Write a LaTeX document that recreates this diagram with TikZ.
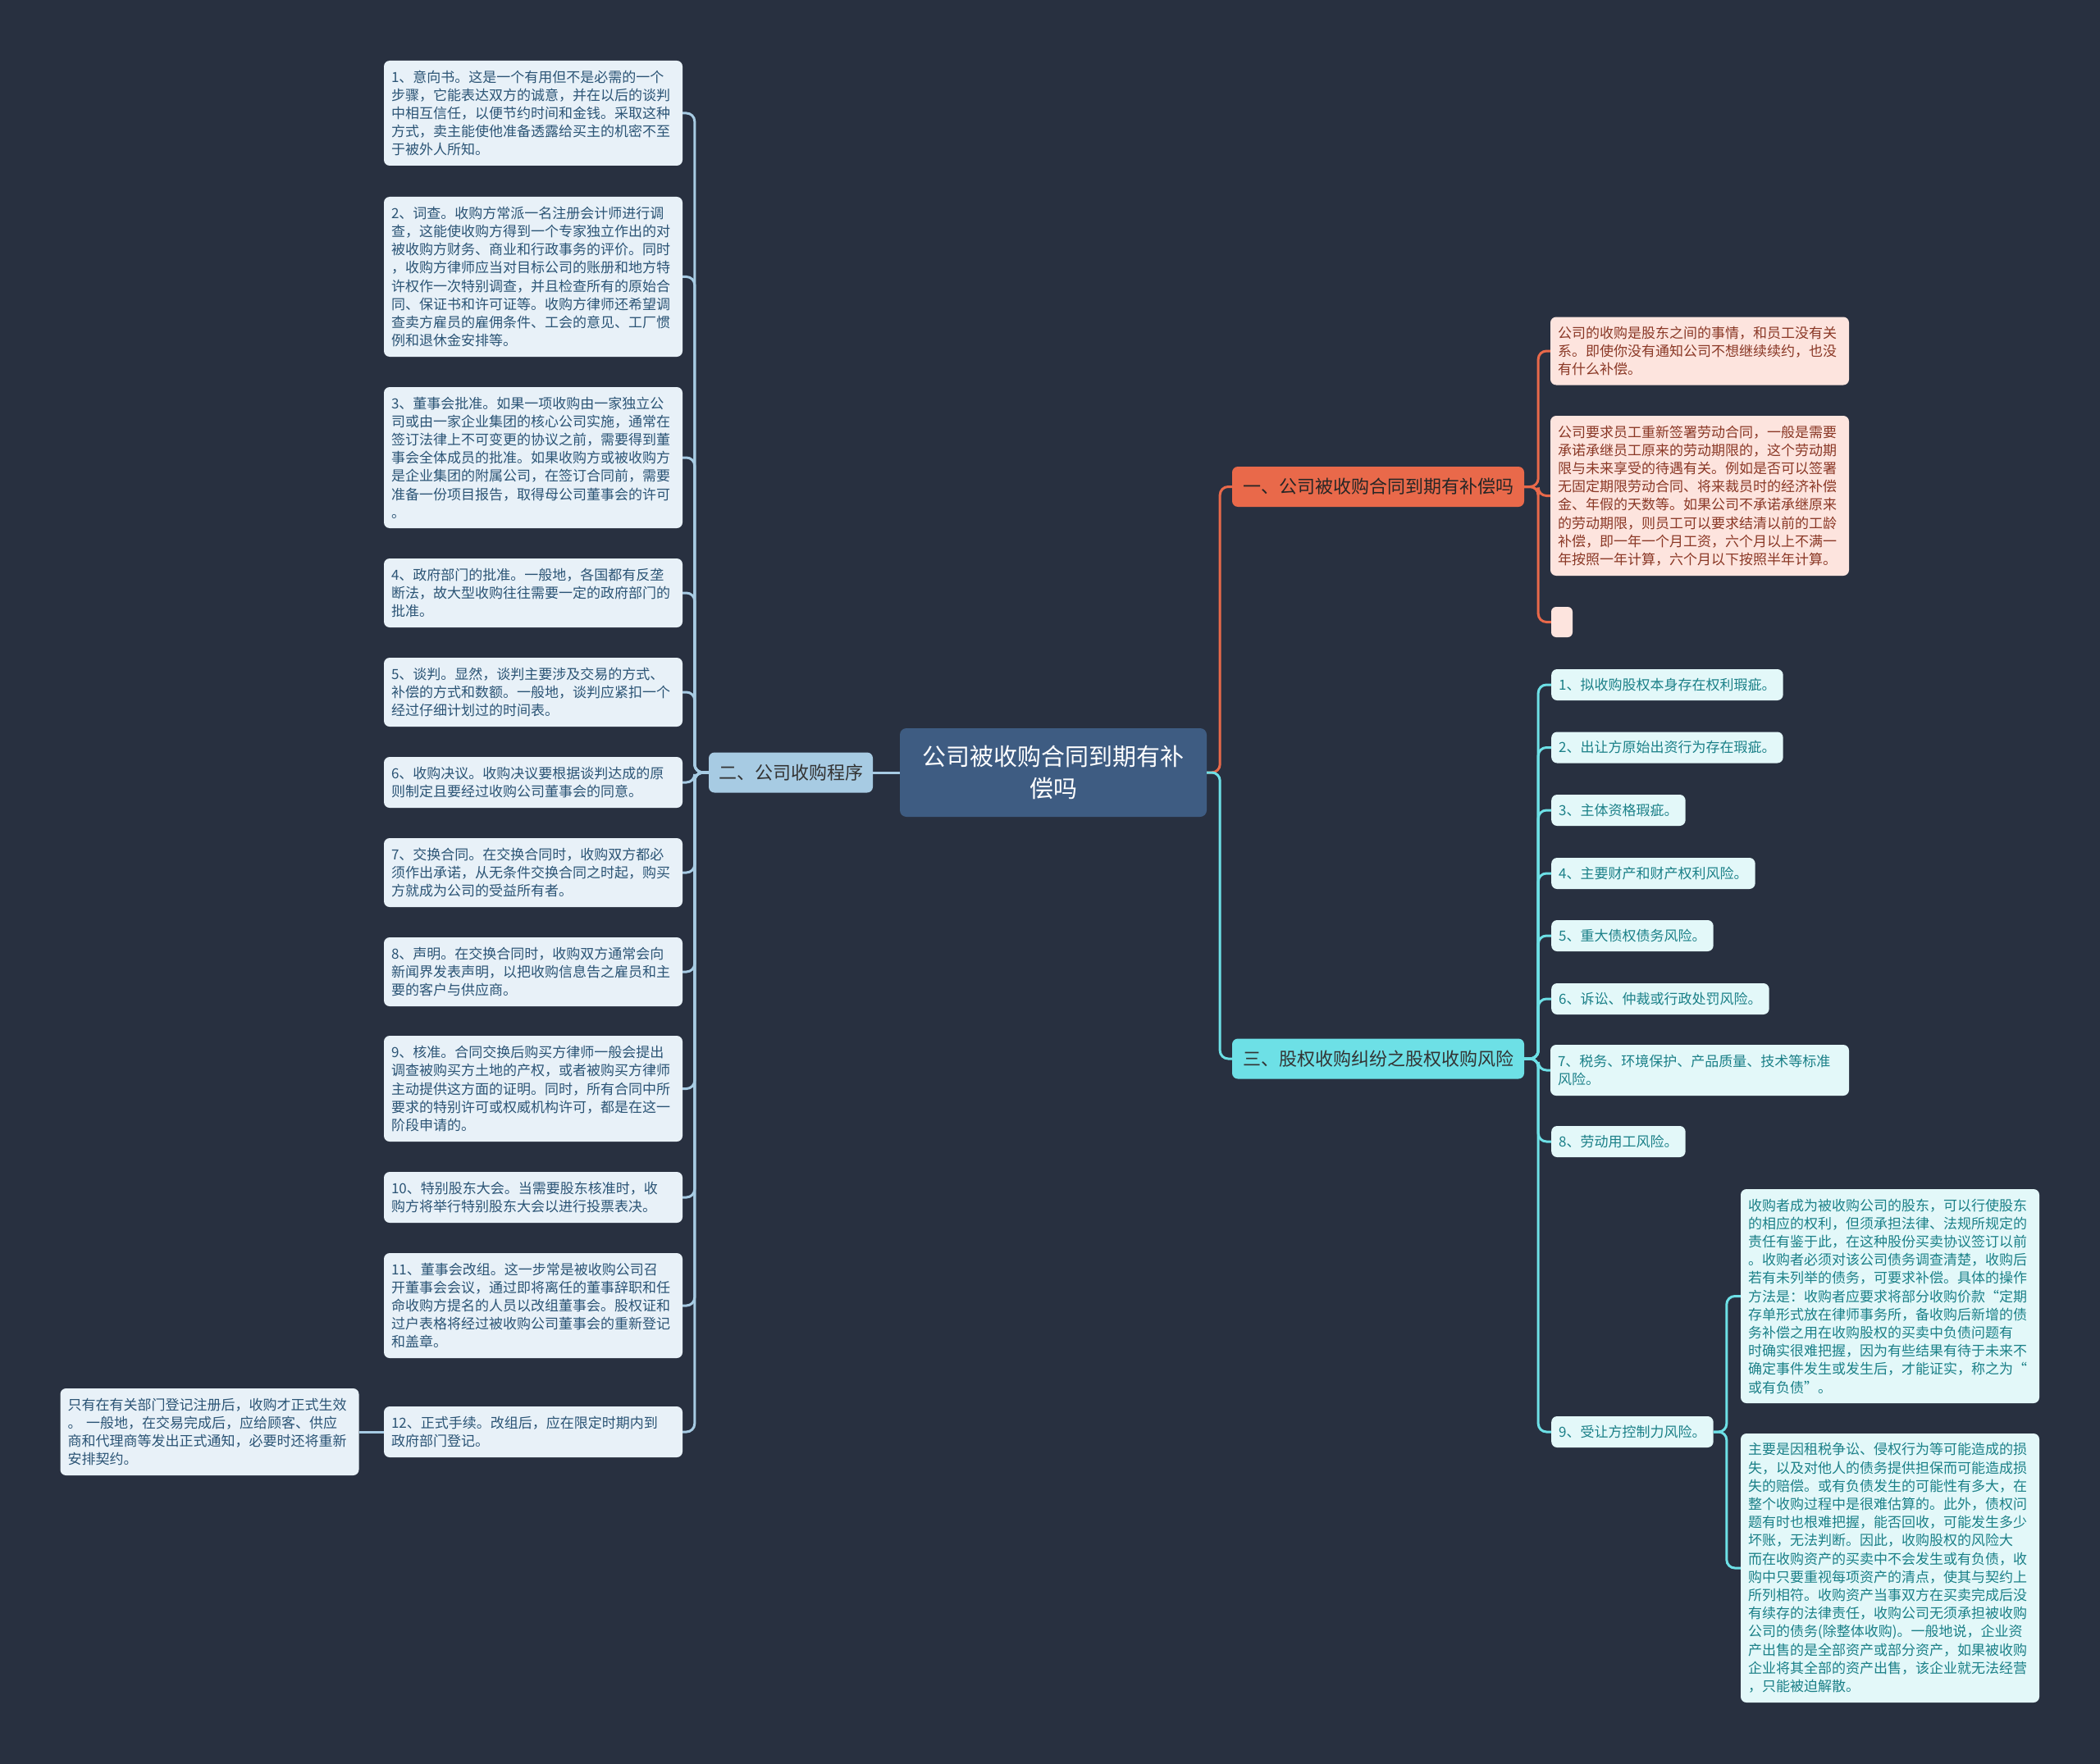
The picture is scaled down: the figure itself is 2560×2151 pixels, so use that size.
\documentclass[tikz,border=0pt]{standalone}
\usepackage{fontspec}
\setmainfont{Noto Sans CJK SC}
\usepackage{xcolor}
\definecolor{bgnavy}{HTML}{283040}
\definecolor{rootfill}{HTML}{3E5C82}
\definecolor{bluemid}{HTML}{A7CBE3}
\definecolor{bluetext}{HTML}{2B5475}
\definecolor{blueleaf}{HTML}{E8F1F8}
\definecolor{redmid}{HTML}{E9694A}
\definecolor{redtext}{HTML}{8A3826}
\definecolor{redleaf}{HTML}{FDE4DE}
\definecolor{cyanmid}{HTML}{6DE0E6}
\definecolor{cyantext}{HTML}{1B8088}
\definecolor{cyanleaf}{HTML}{E3F8F9}

\begin{document}
\begin{tikzpicture}[
  x=1pt, y=-1pt,
  topic/.style={rectangle, rounded corners=8pt, fill=rootfill, text=white, align=center, font=\fontsize{29}{39}\selectfont, minimum width=374pt, minimum height=108pt},
  branch/.style={rectangle, rounded corners=7pt, align=center, font=\fontsize{22}{26}\selectfont, minimum height=49pt, inner xsep=10pt},
  leaf/.style={rectangle, rounded corners=7pt, align=left, font=\fontsize{17}{22.2}\selectfont, inner xsep=9pt, inner ysep=0pt},
  wide/.style={text width=346pt},
  blueleafbox/.style={leaf, wide, fill=blueleaf, text=bluetext},
  redleafbox/.style={leaf, wide, fill=redleaf, text=redtext},
  cyanleafbox/.style={leaf, fill=cyanleaf, text=cyantext, minimum height=38pt},
  link/.style={line width=3pt, rounded corners=10pt},
  bluelink/.style={link, draw=bluemid},
  redlink/.style={link, draw=redmid},
  cyanlink/.style={link, draw=cyanmid}
]
  \fill[bgnavy] (0,0) rectangle (2560,2151);
  \useasboundingbox (0,0) rectangle (2560,2151);

  \node[topic] (root) at (1284,942) {公司被收购合同到期有补\\偿吗};

  \node[branch, fill=bluemid, text=black!80, minimum width=200pt] (procedure) at (964,942) {二、公司收购程序};
  \node[branch, fill=redmid, text=black!85, minimum width=356pt] (compensation) at (1680,593.5) {一、公司被收购合同到期有补偿吗};
  \node[branch, fill=cyanmid, text=black!80, minimum width=356pt] (risk) at (1680,1291) {三、股权收购纠纷之股权收购风险};

  \node[blueleafbox, minimum height=128pt] (step1) at (650,138) {1、意向书。这是一个有用但不是必需的一个\\步骤，它能表达双方的诚意，并在以后的谈判\\中相互信任，以便节约时间和金钱。采取这种\\方式，卖主能使他准备透露给买主的机密不至\\于被外人所知。};
  \node[blueleafbox, minimum height=195pt] (step2) at (650,337.5) {2、词查。收购方常派一名注册会计师进行调\\查，这能使收购方得到一个专家独立作出的对\\被收购方财务、商业和行政事务的评价。同时\\，收购方律师应当对目标公司的账册和地方特\\许权作一次特别调查，并且检查所有的原始合\\同、保证书和许可证等。收购方律师还希望调\\查卖方雇员的雇佣条件、工会的意见、工厂惯\\例和退休金安排等。};
  \node[blueleafbox, minimum height=172pt] (step3) at (650,558) {3、董事会批准。如果一项收购由一家独立公\\司或由一家企业集团的核心公司实施，通常在\\签订法律上不可变更的协议之前，需要得到董\\事会全体成员的批准。如果收购方或被收购方\\是企业集团的附属公司，在签订合同前，需要\\准备一份项目报告，取得母公司董事会的许可\\。};
  \node[blueleafbox, minimum height=84pt] (step4) at (650,723) {4、政府部门的批准。一般地，各国都有反垄\\断法，故大型收购往往需要一定的政府部门的\\批准。};
  \node[blueleafbox, minimum height=84pt] (step5) at (650,844) {5、谈判。显然，谈判主要涉及交易的方式、\\补偿的方式和数额。一般地，谈判应紧扣一个\\经过仔细计划过的时间表。};
  \node[blueleafbox, minimum height=62pt] (step6) at (650,954) {6、收购决议。收购决议要根据谈判达成的原\\则制定且要经过收购公司董事会的同意。};
  \node[blueleafbox, minimum height=84pt] (step7) at (650,1064) {7、交换合同。在交换合同时，收购双方都必\\须作出承诺，从无条件交换合同之时起，购买\\方就成为公司的受益所有者。};
  \node[blueleafbox, minimum height=84pt] (step8) at (650,1185) {8、声明。在交换合同时，收购双方通常会向\\新闻界发表声明，以把收购信息告之雇员和主\\要的客户与供应商。};
  \node[blueleafbox, minimum height=129pt] (step9) at (650,1327.5) {9、核准。合同交换后购买方律师一般会提出\\调查被购买方土地的产权，或者被购买方律师\\主动提供这方面的证明。同时，所有合同中所\\要求的特别许可或权威机构许可，都是在这一\\阶段申请的。};
  \node[blueleafbox, minimum height=62pt] (step10) at (650,1460) {10、特别股东大会。当需要股东核准时，收\\购方将举行特别股东大会以进行投票表决。};
  \node[blueleafbox, minimum height=128pt] (step11) at (650,1592) {11、董事会改组。这一步常是被收购公司召\\开董事会会议，通过即将离任的董事辞职和任\\命收购方提名的人员以改组董事会。股权证和\\过户表格将经过被收购公司董事会的重新登记\\和盖章。};
  \node[blueleafbox, minimum height=62pt] (step12) at (650,1746) {12、正式手续。改组后，应在限定时期内到\\政府部门登记。};
  \node[blueleafbox, minimum height=106pt] (register) at (255.5,1746) {只有在有关部门登记注册后，收购才正式生效\\。 一般地，在交易完成后，应给顾客、供应\\商和代理商等发出正式通知，必要时还将重新\\安排契约。};

  \node[redleafbox, minimum height=83pt] (staff1) at (2072,428) {公司的收购是股东之间的事情，和员工没有关\\系。即使你没有通知公司不想继续续约，也没\\有什么补偿。};
  \node[redleafbox, minimum height=195pt] (staff2) at (2072,604.5) {公司要求员工重新签署劳动合同，一般是需要\\承诺承继员工原来的劳动期限的，这个劳动期\\限与未来享受的待遇有关。例如是否可以签署\\无固定期限劳动合同、将来裁员时的经济补偿\\金、年假的天数等。如果公司不承诺承继原来\\的劳动期限，则员工可以要求结清以前的工龄\\补偿，即一年一个月工资，六个月以上不满一\\年按照一年计算，六个月以下按照半年计算。};
  \node[rectangle, rounded corners=6pt, fill=redleaf, minimum width=26pt, minimum height=37pt, inner sep=0pt] (staff3) at (1904,758.5) {};

  \node[cyanleafbox, anchor=west] (risk1) at (1891,835) {1、拟收购股权本身存在权利瑕疵。};
  \node[cyanleafbox, anchor=west] (risk2) at (1891,911.5) {2、出让方原始出资行为存在瑕疵。};
  \node[cyanleafbox, anchor=west] (risk3) at (1891,988) {3、主体资格瑕疵。};
  \node[cyanleafbox, anchor=west] (risk4) at (1891,1065) {4、主要财产和财产权利风险。};
  \node[cyanleafbox, anchor=west] (risk5) at (1891,1141) {5、重大债权债务风险。};
  \node[cyanleafbox, anchor=west] (risk6) at (1891,1218) {6、诉讼、仲裁或行政处罚风险。};
  \node[cyanleafbox, wide, minimum height=62pt] (risk7) at (2072,1305) {7、税务、环境保护、产品质量、技术等标准\\风险。};
  \node[cyanleafbox, anchor=west] (risk8) at (1891,1392) {8、劳动用工风险。};
  \node[cyanleafbox, anchor=west] (risk9) at (1891,1746) {9、受让方控制力风险。};
  \node[cyanleafbox, wide, minimum height=261pt] (control1) at (2304,1580.5) {收购者成为被收购公司的股东，可以行使股东\\的相应的权利，但须承担法律、法规所规定的\\责任有鉴于此，在这种股份买卖协议签订以前\\。收购者必须对该公司债务调查清楚，收购后\\若有未列举的债务，可要求补偿。具体的操作\\方法是：收购者应要求将部分收购价款“定期\\存单形式放在律师事务所，备收购后新增的债\\务补偿之用在收购股权的买卖中负债问题有\\时确实很难把握，因为有些结果有待于未来不\\确定事件发生或发生后，才能证实，称之为“\\或有负债”。};
  \node[cyanleafbox, wide, minimum height=328pt] (control2) at (2304,1912) {主要是因租税争讼、侵权行为等可能造成的损\\失，以及对他人的债务提供担保而可能造成损\\失的赔偿。或有负债发生的可能性有多大，在\\整个收购过程中是很难估算的。此外，债权问\\题有时也根难把握，能否回收，可能发生多少\\坏账，无法判断。因此，收购股权的风险大\\而在收购资产的买卖中不会发生或有负债，收\\购中只要重视每项资产的清点，使其与契约上\\所列相符。收购资产当事双方在买卖完成后没\\有续存的法律责任，收购公司无须承担被收购\\公司的债务(除整体收购)。一般地说，企业资\\产出售的是全部资产或部分资产，如果被收购\\企业将其全部的资产出售，该企业就无法经营\\，只能被迫解散。};

  \draw[bluelink] (root.west) -- (procedure.east);
  \foreach \s in {step1,step2,step3,step4,step5,step6,step7,step8,step9,step10,step11,step12}
    \draw[bluelink] (procedure.west) -- ++(-17,0) |- (\s.east);
  \draw[bluelink] (step12.west) -- (register.east);

  \draw[redlink] (root.east) -- ++(16,0) |- (compensation.west);
  \draw[cyanlink] (root.east) -- ++(16,0) |- (risk.west);

  \foreach \s in {staff1,staff2,staff3}
    \draw[redlink] (compensation.east) -- ++(17,0) |- (\s.west);
  \foreach \s in {risk1,risk2,risk3,risk4,risk5,risk6,risk7,risk8,risk9}
    \draw[cyanlink] (risk.east) -- ++(17,0) |- (\s.west);
  \draw[cyanlink] (risk9.east) -- ++(16,0) |- (control1.west);
  \draw[cyanlink] (risk9.east) -- ++(16,0) |- (control2.west);
\end{tikzpicture}
\end{document}
